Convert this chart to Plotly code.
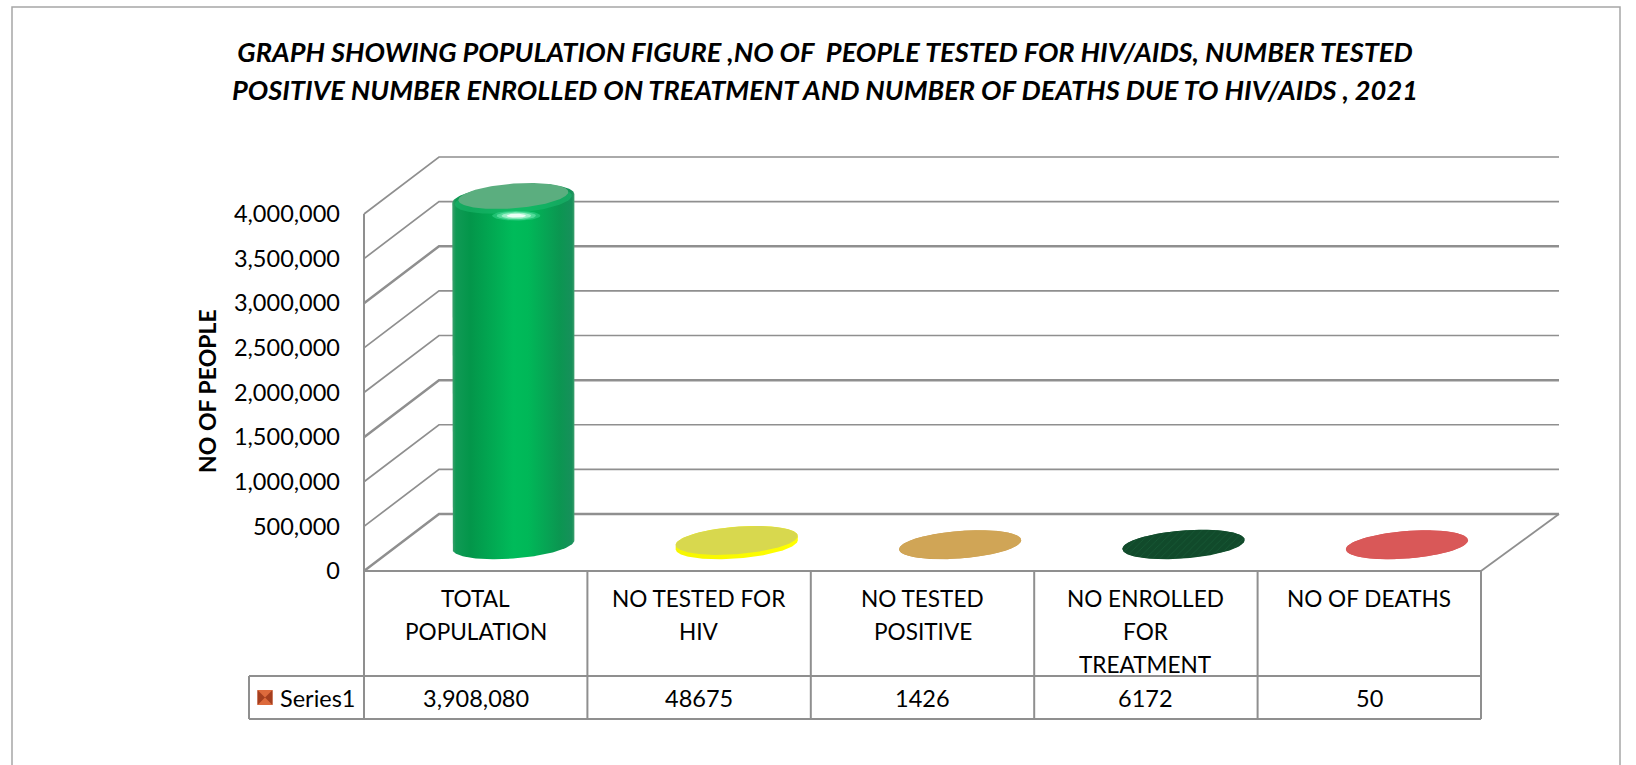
import numpy as np
import plotly.graph_objects as go

# ---------- data ----------
categories = ["TOTAL POPULATION", "NO TESTED FOR HIV", "NO TESTED POSITIVE",
              "NO ENROLLED FOR TREATMENT", "NO OF DEATHS"]
category_lines = [["TOTAL", "POPULATION"], ["NO TESTED FOR", "HIV"], ["NO TESTED", "POSITIVE"],
                  ["NO ENROLLED", "FOR", "TREATMENT"], ["NO OF DEATHS"]]
values = [3908080, 48675, 1426, 6172, 50]
value_labels = ["3,908,080", "48675", "1426", "6172", "50"]
series_name = "Series1"
y_ticks = [0, 500000, 1000000, 1500000, 2000000, 2500000, 3000000, 3500000, 4000000]
title_lines = ["GRAPH SHOWING POPULATION FIGURE ,NO OF  PEOPLE TESTED FOR HIV/AIDS, NUMBER TESTED",
               "POSITIVE NUMBER ENROLLED ON TREATMENT AND NUMBER OF DEATHS DUE TO HIV/AIDS , 2021"]
y_title = "NO OF PEOPLE"

# ---------- layout geometry ----------
W, H = 1636, 765
X0, CAT_W = 364.0, 223.4          # pixel of category 0, pixels per category
Y0, PX_PER_UNIT = 571.0, 357.0 / 4000000
DEPTH_X = 75.0 / CAT_W            # oblique depth offset in category units
DEPTH_Y = 57.0 / PX_PER_UNIT      # oblique depth offset in value units
BACK_RIGHT = 3.0 / CAT_W
x_range = [(0 - X0) / CAT_W, (W - X0) / CAT_W]
y_range = [(Y0 - H) / PX_PER_UNIT, Y0 / PX_PER_UNIT]
GRID = "#8f8f8f"
FONT = "Lato"
NUM_SIZE = 23.5
CAT_SIZE = 22.6

def px_y(p):
    return (Y0 - p) / PX_PER_UNIT

def px_x(p):
    return (p - X0) / CAT_W

ROW1, ROW2 = px_y(676), px_y(719)
KEY_LEFT = px_x(249)

# cylinder floor footprint
RAD_U = 58.0 / CAT_W
RAD_V = 0.254
V_MID = 0.46
U_NUDGE = 0.014

side_colors = [
    [(0, "#3f9f6e"), (0.03, "#109a55"), (0.15, "#03964a"), (0.5, "#00bb5a"),
     (0.62, "#00b858"), (0.88, "#0b9651"), (0.98, "#16905a"), (1, "#3f9f6e")],
    [(0, "#f6f600"), (1, "#ffff00")],
    [(0, "#c89a4c"), (1, "#d2a556")],
    [(0, "#0f4a28"), (1, "#14532f")],
    [(0, "#d95757"), (1, "#d95757")],
]
top_colors = ["#5bae7f", "#d8d84e", "#d0a556", "#114a2b", "#d95858"]

fig = go.Figure()

def line(xs, ys, width=1.8, color=GRID):
    fig.add_trace(go.Scatter(x=xs, y=ys, mode="lines", line=dict(color=color, width=width),
                             hoverinfo="skip", showlegend=False))

# back wall + side wall gridlines
n = len(categories)
for i, v in enumerate(y_ticks):
    w = 2.5 if i in (0, 3, 6) else 1.7
    line([n + DEPTH_X + BACK_RIGHT, DEPTH_X, 0], [v + DEPTH_Y, v + DEPTH_Y, v], width=w)
# front vertical axis wall + floor edges
line([0, 0], [0, y_ticks[-1]], width=2)
line([n, n + DEPTH_X + BACK_RIGHT], [0, DEPTH_Y], width=1.8)

# table
table_x = list(range(n + 1))
for x in table_x:
    line([x, x], [0, ROW2], width=2)
line([0, n], [0, 0], width=2.2)
line([KEY_LEFT, n], [ROW1, ROW1], width=2)
line([KEY_LEFT, n], [ROW2, ROW2], width=2.2)
line([KEY_LEFT, KEY_LEFT], [ROW1, ROW2], width=2)

# cylinders
t = np.linspace(0, 2 * np.pi, 181)
def ellipse(c, level, k=1.0, tt=t):
    u = c + U_NUDGE + k * RAD_U * np.cos(tt)
    v = V_MID + k * RAD_V * np.sin(tt)
    return u + v * DEPTH_X, level + v * DEPTH_Y

t_r = np.arctan2(RAD_V * DEPTH_X, RAD_U)
for i, val in enumerate(values):
    c = i + 0.5
    tall = val > 1000000
    top_arc = np.linspace(t_r, t_r + np.pi, 91)
    bot_arc = np.linspace(t_r + np.pi, t_r + 2 * np.pi, 91)
    # the tall bar has a bevelled, rounded shoulder just under its top face
    xt, yt = ellipse(c, val - (2.5 / PX_PER_UNIT if tall else 0), tt=top_arc)
    xb, yb = ellipse(c, 0, tt=bot_arc)
    fig.add_trace(go.Scatter(
        x=np.r_[xt, xb, xt[0]], y=np.r_[yt, yb, yt[0]], mode="lines", fill="toself",
        line=dict(width=0, color="rgba(0,0,0,0)"),
        fillgradient=dict(type="horizontal", colorscale=side_colors[i]),
        name=categories[i], showlegend=False, hoverinfo="skip"))
    if tall:
        rx, ry = ellipse(c, val - 4.0 / PX_PER_UNIT, k=0.96)
        fig.add_trace(go.Scatter(x=rx, y=ry, mode="lines", fill="toself", fillcolor="rgba(30,185,110,0.55)",
                                 line=dict(width=0, color="rgba(0,0,0,0)"), hoverinfo="skip", showlegend=False))
    ex, ey = ellipse(c, val, k=0.9 if tall else 1.0)
    extra = {}
    if i == 3:
        extra["fillpattern"] = dict(shape="/", fgcolor="#1f6a42", bgcolor=top_colors[i], size=5, solidity=0.15)
    fig.add_trace(go.Scatter(x=ex, y=ey, mode="lines", fill="toself", fillcolor=top_colors[i],
                             line=dict(width=0, color="rgba(0,0,0,0)"),
                             text=[f"{categories[i]}: {value_labels[i]}"] * len(ex),
                             hoverinfo="text", showlegend=False, **extra))
    if tall:
        # soft specular highlight on the rim
        hl_y = val - 22.0 / PX_PER_UNIT
        for k, col, op in [(1.0, "#35d088", 0.6), (0.82, "#6fe8ad", 0.65), (0.62, "#b0f5d3", 0.8), (0.4, "#f0fff8", 0.95)]:
            a = np.linspace(0, 2 * np.pi, 61)
            hx = c + U_NUDGE + DEPTH_X * 0.5 + k * (24.0 / CAT_W) * np.cos(a)
            hy = hl_y + DEPTH_Y * 0.5 + k * (5.0 / PX_PER_UNIT) * np.sin(a)
            fig.add_trace(go.Scatter(x=hx, y=hy, mode="lines", fill="toself", fillcolor=col, opacity=op,
                                     line=dict(width=0, color="rgba(0,0,0,0)"), hoverinfo="skip", showlegend=False))

annotations = []
cat_font = dict(family=FONT, size=CAT_SIZE, color="#000000")
num_font = dict(family=FONT, size=NUM_SIZE, color="#000000")
for i, lines in enumerate(category_lines):
    for j, s in enumerate(lines):
        annotations.append(dict(x=i + 0.5, y=0, xref="x", yref="y", text=s, showarrow=False, font=cat_font,
                                xanchor="center", yanchor="middle", yshift=-(27 + 33 * j)))
    annotations.append(dict(x=i + 0.5, y=(ROW1 + ROW2) / 2, xref="x", yref="y", text=value_labels[i],
                            showarrow=False, font=num_font, xanchor="center", yanchor="middle"))
annotations.append(dict(x=px_x(278), y=(ROW1 + ROW2) / 2, xref="x", yref="y", text=series_name, showarrow=False,
                        font=num_font, xanchor="left", yanchor="middle"))
annotations.append(dict(x=207 / W, y=1 - 391 / H, xref="paper", yref="paper", text=f"<b>{y_title}</b>", textangle=-90,
                        showarrow=False, font=dict(family=FONT, size=23, color="#000000"),
                        xanchor="center", yanchor="middle"))
annotations.append(dict(x=825 / W, y=1 - 89 / H, xref="paper", yref="paper",
                        text=f"<b><i>{title_lines[1]}</i></b>", showarrow=False,
                        font=dict(family=FONT, size=27.2, color="#000000"), xanchor="center", yanchor="middle"))

# legend key in the data table
kx = px_x(265)
ky = (ROW1 + ROW2) / 2
fig.add_trace(go.Scatter(x=[kx], y=[ky], mode="markers", hoverinfo="skip", showlegend=False,
                         marker=dict(symbol="square", size=15, color="#dd6a3c", line=dict(width=0))))
fig.add_trace(go.Scatter(x=[kx], y=[ky], mode="markers", hoverinfo="skip", showlegend=False,
                         marker=dict(symbol="bowtie", size=15, color="#a53f1f", line=dict(width=0))))

fig.update_layout(
    width=W, height=H, margin=dict(l=0, r=0, t=0, b=0), autosize=False,
    paper_bgcolor="white", plot_bgcolor="white", showlegend=False,
    title=dict(text=f"<b><i>{title_lines[0]}</i></b>", x=825 / W, xanchor="center", y=1 - 52 / H, yanchor="middle",
               xref="paper", yref="paper", font=dict(family=FONT, size=27.2, color="#000000")),
    annotations=annotations,
    shapes=[dict(type="rect", xref="paper", yref="paper", x0=12 / W, x1=1620 / W, y0=-0.02, y1=1 - 7 / H,
                 line=dict(color="#a6a6a6", width=1.5), layer="below")],
    xaxis=dict(range=x_range, domain=[0, 1], showgrid=False, zeroline=False, showline=False,
               showticklabels=False, ticks="", fixedrange=True),
    yaxis=dict(range=y_range, domain=[0, 1], showgrid=False, zeroline=False, showline=False,
               tickmode="array", tickvals=y_ticks, ticktext=[f"{v:,}" for v in y_ticks],
               ticks="", ticklabelstandoff=24, ticklabelposition="outside",
               tickfont=dict(family=FONT, size=NUM_SIZE, color="#000000"),
               anchor="free", position=X0 / W, fixedrange=True),
)

fig.write_html("out.html", config={"displayModeBar": False},
               post_script="document.body.style.margin='0';document.documentElement.style.overflow='hidden';")
